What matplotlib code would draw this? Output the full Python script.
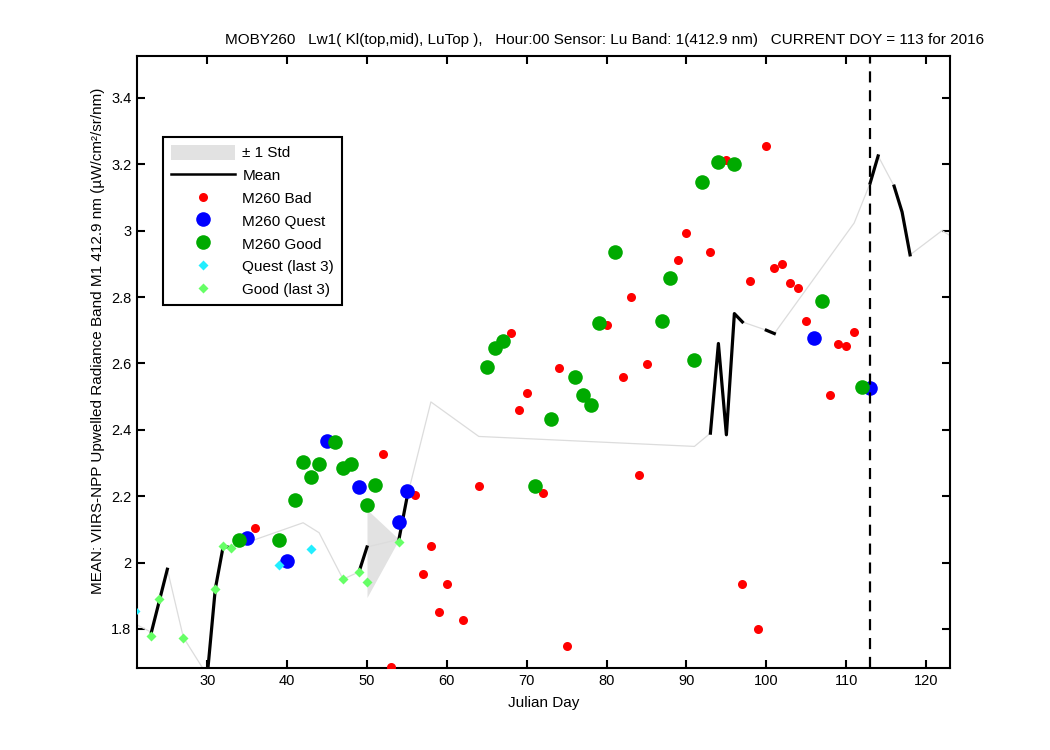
import matplotlib
matplotlib.use('Agg')
import matplotlib.pyplot as plt
import numpy as np
from matplotlib.patches import Patch
from matplotlib.lines import Line2D
from matplotlib.ticker import FuncFormatter

plt.rcParams['font.family'] = ['Liberation Sans', 'DejaVu Sans']

# M260 Bad
bad_days = [36, 52, 53, 56, 57, 58, 59, 60, 62, 64, 68, 69, 70, 72, 74, 75, 80, 82, 83, 84,
            85, 89, 90, 93, 95, 97, 98, 99, 100, 101, 102, 103, 104, 105, 108, 109, 110, 111]
bad_vals = [2.105, 2.327, 1.685, 2.204, 1.966, 2.05, 1.85, 1.935, 1.827, 2.23, 2.692, 2.46, 2.51,
            2.21, 2.586, 1.75, 2.716, 2.559, 2.80, 2.264, 2.598, 2.911, 2.993, 2.935, 3.213,
            1.935, 2.848, 1.80, 3.255, 2.887, 2.90, 2.842, 2.827, 2.728, 2.505, 2.659, 2.652, 2.695]

# M260 Quest
quest_days = [35, 40, 45, 49, 54, 55, 106, 113]
quest_vals = [2.074, 2.005, 2.366, 2.228, 2.122, 2.216, 2.677, 2.526]

# M260 Good
good_days = [34, 39, 41, 42, 43, 44, 46, 47, 48, 50, 51, 65, 66, 67, 71, 73, 76, 77, 78, 79,
             81, 87, 88, 91, 92, 94, 96, 107, 112]
good_vals = [2.068, 2.068, 2.189, 2.303, 2.258, 2.297, 2.363, 2.285, 2.297, 2.173, 2.234,
             2.589, 2.646, 2.667, 2.231, 2.432, 2.559, 2.505, 2.475, 2.722, 2.936, 2.727,
             2.857, 2.61, 3.146, 3.207, 3.2, 2.788, 2.529]

# last 3 years
quest3_days = [21, 39, 43]
quest3_vals = [1.854, 1.993, 2.04]
good3_days = [23, 24, 27, 31, 32, 33, 47, 49, 50, 54]
good3_vals = [1.78, 1.89, 1.773, 1.92, 2.05, 2.044, 1.95, 1.972, 1.942, 2.062]

# mean
mean_days = [21, 23, 24, 25, 27, 30, 31, 32, 33, 42, 44, 47, 49, 50, 54, 55, 58, 64, 91, 93,
             94, 95, 96, 97, 100, 101, 111, 113, 114, 116, 117, 118, 122, 124]
mean_vals = [1.815, 1.79, 1.885, 1.98, 1.775, 1.66, 1.92, 2.05, 2.044, 2.12, 2.09, 1.95, 1.972,
             2.047, 2.07, 2.195, 2.484, 2.38, 2.35, 2.39, 2.66, 2.385, 2.75, 2.725, 2.70, 2.69,
             3.023, 3.143, 3.225, 3.134, 3.056, 2.927, 3.0, 2.97]

# +- 1 std
std_days = [50, 54]
std_lo = [1.895, 2.07]
std_hi = [2.16, 2.07]

current_doy = 113

fig = plt.figure(figsize=(10.5, 7.5), dpi=100)
ax = fig.add_axes([137/1050, 82/750, 813/1050, 612/750])

ax.fill_between(std_days, std_lo, std_hi, color='#e2e2e2', lw=0, zorder=1)
ax.plot(mean_days, mean_vals, color='#dcdcdc', lw=0.9, zorder=2)

# black mean only where days are consecutive
md = np.array(mean_days, dtype=float)
mv = np.array(mean_vals, dtype=float)
bx, by = [md[0]], [mv[0]]
for i in range(1, len(md)):
    if md[i] - md[i-1] > 1:
        bx.append(np.nan)
        by.append(np.nan)
    bx.append(md[i])
    by.append(mv[i])
ax.plot(bx, by, color='k', lw=2.3, zorder=3)

ax.plot(bad_days, bad_vals, 'o', color='#ff0000', ms=6.5, mec='none', zorder=4)
ax.plot(quest_days, quest_vals, 'o', color='#0000ff', ms=10.5, mec='none', zorder=5)
ax.plot(good_days, good_vals, 'o', color='#00aa00', ms=10.5, mec='none', zorder=5)
ax.plot(quest3_days, quest3_vals, 'D', color='#22eeff', ms=5, mec='none', zorder=6)
ax.plot(good3_days, good3_vals, 'D', color='#66ff66', ms=5, mec='none', zorder=6)

ax.axvline(current_doy, color='k', lw=1.6, ls=(0, (5, 3.5)), zorder=7)

ax.set_xlim(21.2, 123)
ax.set_ylim(1.6825, 3.526)
ax.set_xticks(np.arange(30, 121, 10))
ax.set_yticks(np.arange(1.8, 3.41, 0.2))
ax.yaxis.set_major_formatter(FuncFormatter(lambda v, p: '%g' % round(v, 2)))
ax.tick_params(direction='in', length=6, width=1.5, top=True, right=True, labelsize=10.5, pad=4)
for s in ax.spines.values():
    s.set_linewidth(1.5)

ax.set_xlabel('Julian Day', fontsize=11, labelpad=6)
ax.set_ylabel('MEAN: VIIRS-NPP Upwelled Radiance Band M1 412.9 nm (µW/cm²/sr/nm)', fontsize=11)
ax.yaxis.set_label_coords(-0.039, 0.534)
fig.text(605/1050, 1 - 40/750,
         'MOBY260   Lw1( Kl(top,mid), LuTop ),   Hour:00 Sensor: Lu Band: 1(412.9 nm)   CURRENT DOY = 113 for 2016',
         ha='center', va='center', fontsize=11)

handles = [
    Patch(facecolor='#e2e2e2', edgecolor='none'),
    Line2D([], [], color='k', lw=1.8),
    Line2D([], [], marker='o', ls='none', color='#ff0000', ms=6.5, mec='none'),
    Line2D([], [], marker='o', ls='none', color='#0000ff', ms=10.5, mec='none'),
    Line2D([], [], marker='o', ls='none', color='#00aa00', ms=10.5, mec='none'),
    Line2D([], [], marker='D', ls='none', color='#22eeff', ms=5, mec='none'),
    Line2D([], [], marker='D', ls='none', color='#66ff66', ms=5, mec='none'),
]
labels = ['± 1 Std', 'Mean', 'M260 Bad', 'M260 Quest', 'M260 Good', 'Quest (last 3)', 'Good (last 3)']
leg = ax.legend(handles, labels, loc='upper left', bbox_to_anchor=(163/1050, 1 - 137/750),
                bbox_transform=fig.transFigure, borderaxespad=0, fontsize=11, fancybox=False,
                framealpha=1, edgecolor='k', handlelength=4.2, handleheight=1.15,
                labelspacing=0.46, handletextpad=0.5, borderpad=0.5)
leg.get_frame().set_linewidth(1.5)

plt.savefig('out.png', dpi=100)
